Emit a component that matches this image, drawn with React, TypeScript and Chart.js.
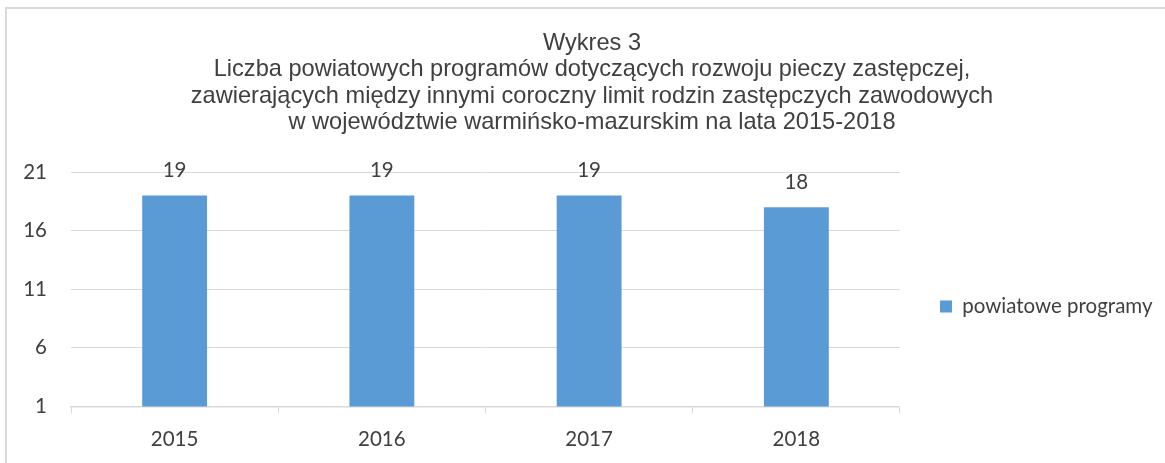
import React, { useEffect, useRef } from "react";
import { Chart, registerables } from "chart.js";

Chart.register(...registerables);

const categories = ["2015", "2016", "2017", "2018"];
const seriesName = "powiatowe programy";
const seriesValues = [19, 19, 19, 18];
const titleLines = [
  "Wykres 3",
  "Liczba powiatowych programów dotyczących rozwoju pieczy zastępczej,",
  "zawierających między innymi coroczny limit rodzin zastępczych zawodowych",
  "w województwie warmińsko-mazurskim na lata 2015-2018",
];
const yMin = 1;
const yMax = 21;
const yStep = 5;

const TEXT = "#404040";
const GRID = "#d9d9d9";
const BAR = "#5b9bd5";
const TICK_FONT = "Lato, 'Open Sans', sans-serif";
const TICK_SIZE = 20.5;

const dataLabels = {
  id: "dataLabels",
  afterDatasetsDraw(chart: any) {
    const ctx = chart.ctx;
    const meta = chart.getDatasetMeta(0);
    ctx.save();
    ctx.fillStyle = TEXT;
    ctx.font = `${TICK_SIZE}px ${TICK_FONT}`;
    ctx.textAlign = "center";
    ctx.textBaseline = "alphabetic";
    meta.data.forEach((bar: any, i: number) => {
      ctx.fillText(String(seriesValues[i]), bar.x, bar.y - 18);
    });
    ctx.restore();
  },
};

export default function App() {
  const ref = useRef<HTMLCanvasElement | null>(null);
  useEffect(() => {
    if (!ref.current) return;
    const chart = new Chart(ref.current, {
      type: "bar",
      data: {
        labels: categories,
        datasets: [
          {
            label: seriesName,
            data: seriesValues,
            backgroundColor: BAR,
            borderWidth: 0,
            categoryPercentage: 1,
            barPercentage: 0.313,
          },
        ],
      },
      options: {
        animation: false,
        responsive: true,
        maintainAspectRatio: false,
        layout: { padding: { left: 14.5, right: 2.5, top: 0, bottom: 0 } },
        plugins: {
          tooltip: { enabled: false },
          title: {
            display: true,
            text: titleLines,
            color: TEXT,
            font: { family: "'Liberation Sans', Arial, sans-serif", size: 23.6, weight: "normal", lineHeight: 26.5 / 23.6 },
            padding: { top: 21, bottom: 36 },
          },
          legend: {
            display: true,
            position: "right",
            fullSize: false,
            align: "center",
            title: { display: true, text: "", padding: { top: 0, bottom: 12 }, font: { size: 19, lineHeight: 1.2 } },
            labels: {
              boxWidth: 12,
              boxHeight: 12,
              padding: 40,
              color: TEXT,
              font: { family: TICK_FONT, size: TICK_SIZE },
            },
          },
        },
        scales: {
          x: {
            offset: true,
            afterFit: (scale: any) => {
              scale.height = scale.height - 3;
            },
            grid: {
              display: true,
              drawOnChartArea: false,
              drawTicks: true,
              tickLength: 7,
              color: GRID,
              offset: true,
            },
            border: { display: true, color: GRID, width: 1.5 },
            ticks: { color: TEXT, font: { family: TICK_FONT, size: TICK_SIZE }, padding: 14 },
          },
          y: {
            min: yMin,
            max: yMax,
            afterFit: (scale: any) => {
              scale.width = 49.5;
            },
            grid: { color: GRID, drawTicks: false, lineWidth: 1 },
            border: { display: false },
            ticks: {
              stepSize: yStep,
              color: TEXT,
              font: { family: TICK_FONT, size: TICK_SIZE },
              padding: 24,
            },
          },
        },
      },
      plugins: [dataLabels],
    });
    return () => chart.destroy();
  }, []);

  return (
    <div
      style={{
        position: "fixed",
        left: 5,
        top: 7,
        width: 1160,
        height: 456,
        boxSizing: "border-box",
        borderTop: `2px solid ${GRID}`,
        borderLeft: `2px solid ${GRID}`,
        background: "#fff",
      }}
    >
      <div style={{ position: "relative", width: 1158, height: 454 }}>
        <canvas ref={ref} />
      </div>
    </div>
  );
}
